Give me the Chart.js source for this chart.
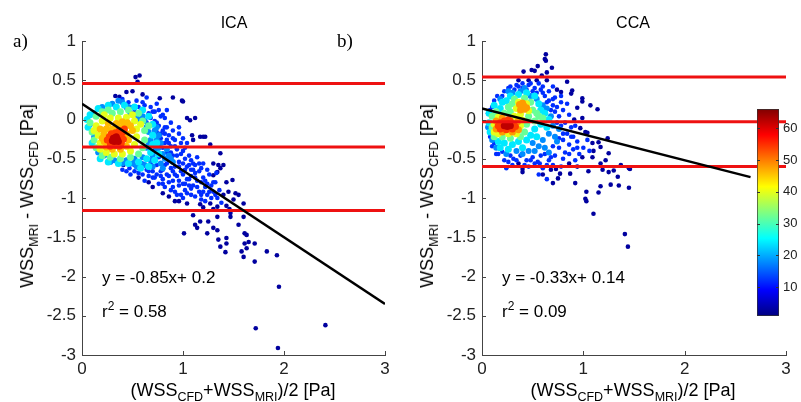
<!DOCTYPE html>
<html>
<head>
<meta charset="utf-8">
<script src="https://cdn.jsdelivr.net/npm/chart.js@4.4.0/dist/chart.umd.min.js"></script>
<style>
  body { margin: 0; background: #fff; width: 801px; height: 402px; position: relative; overflow: hidden;
         font-family: "Liberation Sans", Arial, sans-serif; color: #000; }
  canvas { position: absolute; }
  .t { position: absolute; white-space: nowrap; line-height: 1; }
  .ttl { font-size: 16px; transform: translateX(-50%); }
  .lab { font-size: 18px; }
  .lab sub { font-size: 12.5px; vertical-align: -5px; line-height: 0; }
  .eq { font-size: 17px; }
  .eq sup { font-size: 12px; vertical-align: 7px; line-height: 0; }
  .pl { font-family: "Liberation Serif", "Times New Roman", serif; font-size: 19px; }
  .ylab { transform: translate(-50%, -50%) rotate(-90deg); }
  .xlab { transform: translateX(-50%); }
</style>
</head>
<body>
<canvas id="ica" width="400" height="402" style="left:0;top:0"></canvas>
<canvas id="cca" width="401" height="402" style="left:400px;top:0"></canvas>
<canvas id="cbar" width="61" height="235" style="left:740px;top:95px"></canvas>

<div class="t pl" style="left:13px;top:31px">a)</div>
<div class="t pl" style="left:337px;top:31px">b)</div>
<div class="t ttl" style="left:234px;top:15px">ICA</div>
<div class="t ttl" style="left:633px;top:15px">CCA</div>

<div class="t lab ylab" style="left:27px;top:196px">WSS<sub>MRI</sub> - WSS<sub>CFD</sub> [Pa]</div>
<div class="t lab ylab" style="left:427px;top:196px">WSS<sub>MRI</sub> - WSS<sub>CFD</sub> [Pa]</div>
<div class="t lab xlab" style="left:233px;top:381px">(WSS<sub>CFD</sub>+WSS<sub>MRI</sub>)/2 [Pa]</div>
<div class="t lab xlab" style="left:633px;top:381px">(WSS<sub>CFD</sub>+WSS<sub>MRI</sub>)/2 [Pa]</div>

<div class="t eq" style="left:102px;top:269px">y = -0.85x+ 0.2</div>
<div class="t eq" style="left:102px;top:303px">r<sup>2</sup> = 0.58</div>
<div class="t eq" style="left:502px;top:269px">y = -0.33x+ 0.14</div>
<div class="t eq" style="left:502px;top:303px">r<sup>2</sup> = 0.09</div>

<script>
// ---- data ----
const xTicks = [0, 1, 2, 3];
const yMin = -3, yMax = 1, yStep = 0.5;
const colorTicks = [10, 20, 30, 40, 50, 60];
const cMin = 1, cMax = 66;

// ICA: limits of agreement and regression (slope, intercept, x end)
const icaLimits = [0.46, -0.35, -1.16];
const icaFit = [-0.85, 0.2, 3];
// CCA
const ccaLimits = [0.54, -0.03, -0.60];
const ccaFit = [-0.33, 0.14, 2.65];

// point density levels (colour bar value), highest first
const icaLevels = [62, 54, 46, 40, 32, 24, 18, 12, 3];
const ccaLevels = [62, 54, 48, 40, 32, 24, 18, 12, 3];

const ica62 = [[0.31,-0.24],[0.33,-0.26],[0.35,-0.25],[0.32,-0.28],[0.34,-0.22],[0.30,-0.27],[0.36,-0.28],[0.33,-0.23]];
const ica54 = [[0.27,-0.22],[0.28,-0.30],[0.38,-0.20],[0.39,-0.30],[0.33,-0.33],[0.33,-0.17],[0.25,-0.26],[0.41,-0.25],[0.29,-0.18],[0.37,-0.34],[0.28,-0.34],[0.40,-0.17],[0.37,-0.14],[0.42,-0.12]];
const ica46 = [[0.22,-0.18],[0.22,-0.28],[0.24,-0.12],[0.30,-0.12],[0.36,-0.10],[0.42,-0.08],[0.45,-0.04],[0.48,-0.08],[0.44,-0.18],[0.46,-0.26],[0.44,-0.34],[0.38,-0.38],[0.30,-0.38],[0.24,-0.35],[0.20,-0.24],[0.40,-0.03],[0.50,-0.14],[0.18,-0.12],[0.26,-0.05],[0.34,-0.05]];
const ica40 = [[0.14,-0.08],[0.16,-0.20],[0.18,-0.30],[0.20,-0.02],[0.28,0.02],[0.36,0.02],[0.44,0.03],[0.52,-0.02],[0.54,-0.12],[0.54,-0.22],[0.52,-0.32],[0.48,-0.40],[0.40,-0.44],[0.32,-0.44],[0.24,-0.42],[0.18,-0.38],[0.12,-0.14],[0.50,0.06],[0.58,-0.06],[0.22,0.06]];
const ica32 = [[0.08,-0.04],[0.10,-0.16],[0.12,-0.26],[0.14,0.04],[0.20,0.10],[0.30,0.08],[0.38,0.10],[0.46,0.12],[0.56,0.08],[0.60,-0.02],[0.62,-0.14],[0.62,-0.26],[0.60,-0.36],[0.56,-0.44],[0.48,-0.48],[0.38,-0.50],[0.28,-0.48],[0.20,-0.46],[0.14,-0.36],[0.66,-0.08],[0.26,0.12]];
const ica24 = [[0.05,0.00],[0.06,-0.10],[0.08,0.06],[0.16,0.14],[0.26,0.18],[0.34,0.16],[0.42,0.18],[0.52,0.16],[0.60,0.12],[0.66,0.04],[0.70,-0.06],[0.70,-0.20],[0.70,-0.32],[0.68,-0.42],[0.64,-0.50],[0.56,-0.54],[0.46,-0.56],[0.36,-0.56],[0.26,-0.54],[0.18,-0.50],[0.10,-0.30],[0.74,-0.30],[0.76,-0.44],[0.72,-0.52],[0.66,-0.60],[0.58,-0.62]];
const ica18 = [[0.40,0.22],[0.48,0.08],[0.56,0.00],[0.62,-0.02],[0.66,-0.16],[0.68,-0.26],[0.64,-0.36],[0.74,-0.26],[0.72,-0.34],[0.70,-0.46],[0.60,-0.48],[0.52,-0.50],[0.44,-0.52],[0.32,-0.52],[0.22,-0.46],[0.12,-0.22],[0.76,-0.36],[0.80,-0.44],[0.78,-0.56],[0.70,-0.60],[0.62,-0.58],[0.54,-0.60],[0.86,-0.46],[0.82,-0.50],[0.90,-0.54],[0.74,-0.10],[0.60,0.04],[0.30,0.20],[0.20,0.16],[0.12,0.08],[0.08,-0.06],
  [0.36,0.24],[0.46,0.16],[0.54,0.06],[0.64,-0.10],[0.66,-0.30],[0.72,-0.14],[0.76,-0.20],[0.78,-0.30],[0.74,-0.40],[0.68,-0.52],[0.58,-0.56],[0.50,-0.56],[0.40,-0.56],[0.28,-0.54],[0.16,-0.42],[0.84,-0.38],[0.88,-0.50],[0.80,-0.62]];
const ica12 = [[0.46,0.22],[0.50,0.16],[0.54,0.24],[0.58,0.10],[0.47,-0.62],[0.52,-0.58],[0.56,-0.68],[0.60,-0.56],[0.48,-0.70],
  [0.62,0.18],[0.64,0.28],[0.66,0.08],[0.68,0.16],[0.72,-0.02],[0.64,-0.64],[0.68,-0.56],[0.66,-0.72],[0.70,-0.66],[0.62,-0.78],
  [0.72,0.10],[0.74,0.20],[0.76,-0.08],[0.78,0.04],[0.74,-0.16],[0.78,-0.24],[0.72,-0.40],[0.76,-0.48],[0.74,-0.58],[0.78,-0.66],[0.72,-0.74],[0.76,-0.82],[0.80,-0.76],[0.80,-0.14],[0.80,-0.36],
  [0.82,0.02],[0.84,-0.10],[0.86,-0.20],[0.82,-0.30],[0.88,-0.34],[0.84,-0.42],[0.86,-0.52],[0.82,-0.58],[0.88,-0.62],[0.84,-0.70],[0.86,-0.80],[0.82,-0.86],[0.88,-0.90],[0.84,0.12],[0.88,-0.04],
  [0.90,-0.14],[0.92,-0.26],[0.94,-0.38],[0.90,-0.46],[0.96,-0.54],[0.92,-0.60],[0.98,-0.66],[0.94,-0.72],[0.90,-0.78],[0.96,-0.84],[0.92,-0.92],[0.98,-0.96],[0.96,-0.18],[0.98,-0.30],
  [1.00,-0.40],[1.02,-0.50],[1.04,-0.60],[1.00,-0.70],[1.06,-0.76],[1.02,-0.82],[1.08,-0.88],[1.04,-0.94],[1.00,-1.00],[1.06,-0.46],[1.08,-0.64],[1.04,-0.30],
  [1.10,-0.56],[1.12,-0.68],[1.14,-0.78],[1.10,-0.84],[1.16,-0.92],[1.12,-0.98],[1.18,-1.02],[1.14,-0.48],[1.18,-0.62],
  [1.20,-0.74],[1.22,-0.86],[1.24,-0.96],[1.26,-0.70],[1.28,-0.84],[1.22,-1.04],[1.30,-0.92],
  [1.32,-0.80],[1.34,-1.00],[1.36,-0.90],[1.38,-1.06],[1.33,-0.68],
  [0.40,0.26],[0.44,0.14],[0.52,0.10],[0.56,0.16],[0.60,0.22],[0.68,0.02],[0.70,0.10],[0.64,-0.04],[0.76,0.12],[0.80,0.06],[0.74,-0.04],[0.78,-0.18],[0.82,-0.10],[0.84,-0.26],[0.86,-0.30],[0.90,-0.24],[0.88,-0.42],[0.92,-0.34],[0.94,-0.46],[0.96,-0.60],[0.98,-0.44],[1.00,-0.56],[1.02,-0.64],[1.04,-0.76],[1.06,-0.58],[1.08,-0.72],[1.10,-0.64],[1.12,-0.74],[1.14,-0.86],[1.16,-0.66],[1.18,-0.80],[1.20,-0.92],[1.22,-0.78],[1.24,-0.82],[1.26,-0.92],[1.28,-1.00],[1.30,-0.80],[1.32,-0.96],[1.18,-0.96],[1.08,-0.96],[1.02,-0.90],[0.94,-0.96],[0.90,-0.86],[0.86,-0.72],[0.80,-0.82],[0.78,-0.72],[0.74,-0.70],[0.70,-0.74],[0.66,-0.66],[0.60,-0.70],[0.56,-0.62],[0.52,-0.66],[0.44,-0.66],[0.40,-0.64],[0.80,-0.64],[0.84,-0.56],[0.90,-0.66],[0.92,-0.70],[0.96,-0.78],[1.00,-0.82],[1.06,-0.84],[0.82,-0.18],[0.96,-0.10],[1.00,-0.24],[1.02,-0.36],[1.08,-0.52],[1.12,-0.58],[1.16,-0.56],[1.20,-0.56],[1.24,-0.64]];
const ica3 = [[0.53,0.54],[0.57,0.56],[0.55,0.48],[0.33,0.30],[0.37,0.29],[0.44,0.35],[0.50,0.36],[0.60,0.32],[0.77,0.27],[0.90,0.28],[0.99,0.24],[1.12,0.02],[1.04,0.02],[1.17,-0.22],[1.22,-0.22],[1.27,-0.32],[1.37,-0.43],[1.10,-0.26],[1.30,-0.56],[1.35,-0.58],[1.49,-0.77],[1.52,-0.94],[1.45,-0.92],[1.40,-0.96],[1.55,-0.96],[1.37,-0.62],[1.30,-0.71],[1.43,-0.80],[1.09,-0.20],[1.20,-0.22],[1.07,-0.01],[1.00,0.23],[1.34,-0.67],[1.40,-0.58],[0.41,-0.58],[0.56,-0.74],[0.66,-0.80],
  [0.92,-1.04],[1.04,-1.07],[1.17,-1.08],[1.27,-1.07],[1.34,-1.11],[1.43,-1.10],[1.60,-1.07],[1.10,-1.22],[1.17,-1.30],[1.12,-1.34],[1.14,-1.38],[1.25,-1.30],[1.34,-1.24],[1.47,-1.19],[1.47,-1.24],[1.60,-1.24],[1.01,-1.45],[1.24,-1.45],[1.30,-1.38],[1.34,-1.41],[1.35,-1.53],[1.43,-1.51],[1.43,-1.58],[1.37,-1.62],[1.42,-1.69],[1.55,-1.34],[1.61,-1.45],[1.63,-1.47],[1.61,-1.58],[1.65,-1.56],[1.71,-1.58],[1.63,-1.64],[1.58,-1.68],[1.60,-1.75],[1.71,-1.81],[1.83,-1.68],[1.93,-1.73],[1.95,-2.13],[1.72,-2.66],[2.41,-2.62],[1.94,-2.91],
  [0.86,-0.98],[0.96,-1.04],[1.20,-1.12],[1.30,-1.14],[1.50,-1.02],[1.46,-1.14],[0.70,-0.86],[0.80,-0.94]];

const cca62 = [[0.24,-0.07],[0.26,-0.06],[0.25,-0.09],[0.22,-0.08],[0.28,-0.08]];
const cca54 = [[0.18,-0.04],[0.20,-0.10],[0.22,-0.02],[0.28,-0.02],[0.31,-0.06],[0.30,-0.12],[0.24,-0.13],[0.18,-0.12],[0.16,-0.08],[0.33,-0.09],[0.26,0.00]];
const cca48 = [[0.39,0.16],[0.41,0.18],[0.38,0.12],[0.42,0.13],[0.14,-0.02],[0.14,-0.12],[0.20,-0.16],[0.30,-0.16],[0.35,-0.03],[0.20,0.02],[0.36,-0.13],[0.40,0.21],[0.44,0.15],[0.37,0.19]];
const cca40 = [[0.36,0.22],[0.34,0.14],[0.44,0.20],[0.46,0.11],[0.38,0.07],[0.12,-0.06],[0.12,-0.16],[0.16,-0.18],[0.26,-0.18],[0.34,-0.18],[0.38,-0.08],[0.32,0.04],[0.16,0.03],[0.40,-0.01]];
const cca32 = [[0.30,0.20],[0.32,0.26],[0.42,0.27],[0.48,0.22],[0.50,0.12],[0.46,0.04],[0.44,-0.06],[0.42,-0.16],[0.38,-0.22],[0.28,-0.24],[0.20,-0.22],[0.12,-0.22],[0.10,-0.10],[0.10,0.04],[0.14,0.10],[0.22,0.08],[0.28,0.10],[0.26,0.16],[0.54,0.08],[0.52,-0.02],[0.56,0.04],[0.60,0.02]];
const cca24 = [[0.24,0.24],[0.28,0.30],[0.36,0.32],[0.44,0.34],[0.52,0.30],[0.56,0.20],[0.58,0.12],[0.62,0.08],[0.58,-0.06],[0.52,-0.12],[0.48,-0.20],[0.44,-0.26],[0.36,-0.28],[0.30,-0.32],[0.22,-0.30],[0.16,-0.28],[0.08,-0.16],[0.07,-0.04],[0.07,0.08],[0.12,0.18],[0.18,0.14],[0.20,0.22],[0.64,-0.10],[0.66,0.00],[0.54,-0.22],[0.40,-0.36],[0.26,-0.38],[0.18,-0.36]];
const cca18 = [[0.48,0.30],[0.54,0.26],[0.60,0.18],[0.64,0.14],[0.68,0.04],[0.70,-0.08],[0.66,-0.18],[0.60,-0.26],[0.56,-0.34],[0.50,-0.30],[0.46,-0.40],[0.34,-0.40],[0.24,-0.44],[0.14,-0.36],[0.10,-0.26],[0.06,-0.10],[0.18,0.26],[0.26,0.36],[0.38,0.36],[0.72,-0.22],[0.76,-0.12],[0.74,-0.28],[0.62,-0.36],[0.52,-0.40],[0.40,-0.44],[0.66,-0.42],[0.30,0.34],[0.42,0.40]];
const cca12 = [[0.57,-0.56],[0.55,-0.54],[0.31,-0.50],[0.28,-0.46],[0.20,-0.41],[0.18,-0.37],[0.15,0.30],[0.22,0.36],[0.28,0.42],[0.34,0.44],[0.40,0.40],[0.46,0.44],[0.52,0.40],[0.58,0.38],[0.62,0.30],[0.66,0.24],[0.70,0.18],[0.72,0.10],[0.76,0.04],[0.80,0.12],[0.78,0.22],[0.84,0.20],[0.86,0.06],[0.82,-0.04],[0.88,-0.10],[0.84,-0.18],[0.90,-0.22],[0.80,-0.26],[0.86,-0.32],[0.76,-0.36],[0.82,-0.42],[0.72,-0.46],[0.66,-0.52],[0.62,-0.44],[0.50,-0.48],[0.44,-0.52],[0.46,-0.60],[0.38,-0.46],[0.30,-0.58],[0.26,-0.54],[0.24,-0.62],[0.90,-0.38],[0.94,-0.28],[0.96,-0.44],[0.92,-0.52],[1.00,-0.36],[1.04,-0.26],[1.06,-0.40],[0.70,-0.58],[0.60,-0.62],[0.56,-0.70],[0.64,-0.76],[0.66,0.36],[0.56,0.46],[0.72,0.28],[0.70,0.42],[0.78,0.30],[0.10,0.16],[0.06,0.08],[0.12,-0.30],[0.08,-0.22],[0.14,-0.44],
  [0.20,0.30],[0.26,0.40],[0.32,0.38],[0.36,0.42],[0.44,0.38],[0.50,0.36],[0.54,0.34],[0.60,0.34],[0.64,0.22],[0.68,0.12],[0.70,0.26],[0.74,0.16],[0.74,-0.04],[0.78,-0.08],[0.80,-0.18],[0.76,-0.24],[0.70,-0.34],[0.68,-0.48],[0.64,-0.58],[0.58,-0.46],[0.52,-0.56],[0.48,-0.52],[0.42,-0.58],[0.34,-0.52],[0.22,-0.52],[0.16,-0.44],[0.10,-0.34],[0.92,-0.08],[0.86,-0.44],[0.80,-0.50],[0.78,-0.60],[0.88,-0.22],[0.94,-0.36],[0.48,0.46],[0.40,0.46],[0.60,0.42],[0.08,0.12],[0.12,0.24]];
const cca3 = [[0.63,0.83],[0.62,0.77],[0.63,0.75],[0.55,0.68],[0.49,0.63],[0.41,0.61],[0.52,0.62],[0.69,0.66],[0.64,0.60],[0.59,0.56],[0.46,0.50],[0.54,0.50],[0.64,0.50],[0.36,0.50],[0.84,0.48],[0.74,0.38],[0.78,0.35],[0.89,0.37],[0.88,0.33],[0.99,0.27],[0.99,0.23],[0.94,0.15],[1.07,0.18],[1.14,0.13],[0.99,0.02],[0.91,0.00],[0.97,-0.11],[1.02,-0.16],[1.04,-0.17],[1.09,-0.30],[1.15,-0.29],[1.24,-0.24],[1.17,-0.35],[1.25,-0.43],[1.09,-0.48],[0.99,-0.48],[1.17,-0.56],[1.19,-0.64],[1.25,-0.67],[1.30,-0.65],[1.37,-0.58],[1.45,-0.62],[1.46,-0.63],[1.34,-0.73],[1.27,-0.83],[1.17,-0.85],[1.35,-0.84],[1.45,-0.87],[0.92,-0.81],[0.87,-0.69],[0.77,-0.69],[0.70,-0.81],[0.75,-0.75],[0.73,-0.63],[0.68,-0.64],[0.40,-0.67],[0.40,-0.63],[0.36,-0.56],[1.03,-0.92],[1.02,-1.01],[1.15,-0.93],[1.03,-1.04],[1.10,-1.20],[1.41,-1.46],[1.44,-1.62],[1.10,-0.40],[1.22,-0.52],[0.94,-0.60],[0.86,-0.56],[1.05,-0.66],[0.60,-0.70]];

const icaGroups = [ica62, ica54, ica46, ica40, ica32, ica24, ica18, ica12, ica3];
const ccaGroups = [cca62, cca54, cca48, cca40, cca32, cca24, cca18, cca12, cca3];

// jet colour map
function jet(v) {
  const t = (v - cMin) / (cMax - cMin);
  const c = k => Math.round(255 * Math.max(0, Math.min(1, 1.5 - Math.abs(4 * t - k))));
  return 'rgb(' + c(3) + ',' + c(2) + ',' + c(1) + ')';
}

Chart.defaults.font.family = '"Liberation Sans", Arial, sans-serif';
Chart.defaults.color = '#222';

// small inward tick marks like the original axes
const innerTicks = {
  id: 'innerTicks',
  afterDraw(chart) {
    const { ctx, scales: { x, y } } = chart;
    ctx.save();
    ctx.strokeStyle = '#444';
    ctx.lineWidth = 1;
    x.ticks.forEach(t => {
      const px = Math.round(x.getPixelForValue(t.value)) + 0.5;
      ctx.beginPath(); ctx.moveTo(px, y.bottom); ctx.lineTo(px, y.bottom - 4); ctx.stroke();
    });
    y.ticks.forEach(t => {
      const py = Math.round(y.getPixelForValue(t.value)) + 0.5;
      ctx.beginPath(); ctx.moveTo(x.left, py); ctx.lineTo(x.left + 4, py); ctx.stroke();
    });
    ctx.restore();
  }
};

function panel(id, levels, groups, limits, fit) {
  const datasets = [];
  datasets.push({
    data: [{ x: 0, y: fit[1] }, { x: fit[2], y: fit[1] + fit[0] * fit[2] }],
    showLine: true, borderColor: '#000', borderWidth: 2.5, pointRadius: 0
  });
  limits.forEach(v => datasets.push({
    data: [{ x: 0, y: v }, { x: 3, y: v }],
    showLine: true, borderColor: '#ee1111', borderWidth: 3, pointRadius: 0
  }));
  groups.forEach((pts, i) => {
    const lv = levels[i];
    datasets.push({
      data: pts.map(p => ({ x: p[0], y: p[1] })),
      backgroundColor: jet(lv), borderWidth: 0,
      pointRadius: lv >= 24 ? 3.5 : (lv >= 18 ? 3 : 2.3)
    });
  });

  new Chart(document.getElementById(id), {
    type: 'scatter',
    data: { datasets },
    plugins: [innerTicks],
    options: {
      responsive: false, animation: false, devicePixelRatio: 1,
      layout: { padding: { left: 42, top: 41, right: 15, bottom: 22 } },
      plugins: { legend: { display: false }, tooltip: { enabled: false } },
      scales: {
        x: {
          type: 'linear', min: 0, max: 3,
          afterFit: s => { s.height = 25; },
          afterBuildTicks: s => { s.ticks = xTicks.map(v => ({ value: v })); },
          grid: { display: false, drawTicks: false },
          border: { display: true, color: '#444', width: 1 },
          ticks: { font: { size: 17 }, padding: 4, maxRotation: 0, callback: v => String(v) }
        },
        y: {
          min: yMin, max: yMax,
          afterFit: s => { s.width = 40; },
          grid: { display: false, drawTicks: false },
          border: { display: true, color: '#444', width: 1 },
          ticks: { stepSize: yStep, font: { size: 17 }, padding: 6, callback: v => String(v) }
        }
      }
    }
  });
}

panel('ica', icaLevels, icaGroups, icaLimits, icaFit);
panel('cca', ccaLevels, ccaGroups, ccaLimits, ccaFit);

// colour bar
const cbTicks = {
  id: 'cbTicks',
  afterDraw(chart) {
    const { ctx, chartArea: a, scales: { y } } = chart;
    ctx.save();
    ctx.strokeStyle = '#333';
    y.ticks.forEach(t => {
      const py = Math.round(y.getPixelForValue(t.value)) + 0.5;
      ctx.beginPath(); ctx.moveTo(a.left, py); ctx.lineTo(a.left + 3, py);
      ctx.moveTo(a.right, py); ctx.lineTo(a.right - 3, py); ctx.stroke();
    });
    ctx.restore();
  }
};

new Chart(document.getElementById('cbar'), {
  type: 'bar',
  data: {
    labels: [''],
    datasets: [{
      data: [[cMin, cMax]],
      backgroundColor: c => {
        const a = c.chart.chartArea;
        if (!a) return '#00f';
        const g = c.chart.ctx.createLinearGradient(0, a.bottom, 0, a.top);
        for (let i = 0; i <= 8; i++) g.addColorStop(i / 8, jet(cMin + (cMax - cMin) * i / 8));
        return g;
      },
      borderColor: '#333', borderWidth: 1, borderSkipped: false,
      barPercentage: 1, categoryPercentage: 1
    }]
  },
  plugins: [cbTicks],
  options: {
    responsive: false, animation: false, devicePixelRatio: 1,
    layout: { padding: { left: 17, top: 14, right: 0, bottom: 14 } },
    plugins: { legend: { display: false }, tooltip: { enabled: false } },
    scales: {
      x: { display: false },
      y: {
        position: 'right', min: cMin, max: cMax,
        afterFit: s => { s.width = 22; },
        afterBuildTicks: s => { s.ticks = colorTicks.map(v => ({ value: v })); },
        grid: { display: false, drawTicks: false },
        border: { display: false },
        ticks: { font: { size: 13 }, padding: 4 }
      }
    }
  }
});
</script>
</body>
</html>
